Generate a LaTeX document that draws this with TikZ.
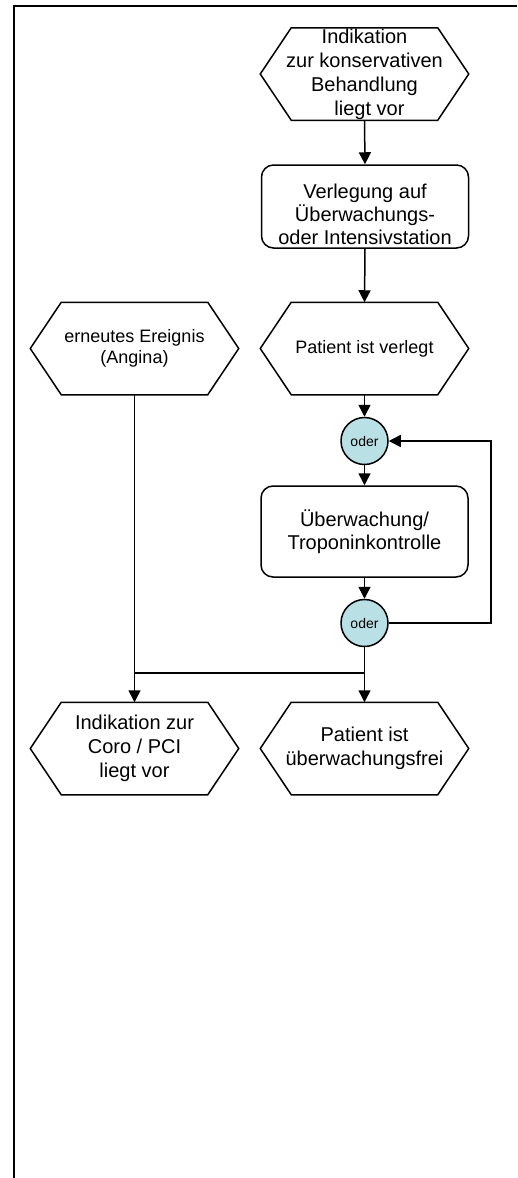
\documentclass[tikz,border=0pt]{standalone}
\usepackage{fontspec}
\setmainfont{Liberation Sans}
\usetikzlibrary{arrows.meta,calc}
\definecolor{orfill}{RGB}{185,224,228}
\begin{document}
\begin{tikzpicture}[x=1pt,y=-1pt,
  line width=1.5pt,
  hex/.style={minimum width=207pt,minimum height=91pt,inner sep=0pt,align=center,
    font=\fontsize{20}{24}\selectfont},
  hexsmall/.style={hex,font=\fontsize{18}{20.5}\selectfont},
  box/.style={draw,rounded corners=12pt,minimum width=207pt,inner sep=0pt,align=center,
    font=\fontsize{20}{23}\selectfont},
  boxtext/.style={inner sep=0pt,align=center,font=\fontsize{20}{23}\selectfont},
  orgate/.style={circle,draw,fill=orfill,minimum size=47pt,inner sep=0pt,
    font=\fontsize{14}{16}\selectfont},
  arr/.style={-{Triangle[length=12pt,width=12pt]}}]

\useasboundingbox (0,0) rectangle (517,1178);

% frame (top and left border)
\draw[line width=2.2pt] (517,6) -- (14,6) -- (14,1178);

% events (hexagons) and functions (rounded boxes)
\node[hex] (ind) at (364.5,74)
  {Indikation\\zur konservativen\\Behandlung\\\hspace*{10pt}liegt vor};
\node[box,minimum height=83pt] (verl) at (365,206.5) {};
\node[boxtext] (verlT) at (365,214) {Verlegung auf\\Überwachungs-\\oder Intensivstation};
\node[hexsmall] (verlegt) at (364.5,348.5) {Patient ist verlegt};
\node[hexsmall] (ereig) at (134.5,348.5) {erneutes Ereignis\\(Angina)};
\node[orgate] (or1) at (364.5,441) {oder};
\node[box,minimum height=91pt] (ueb) at (364.5,531.5) {Überwachung/\\Troponinkontrolle};
\node[orgate] (or2) at (364.5,623) {oder};
\node[hex] (coro) at (134.5,748.5) {Indikation zur\\Coro / PCI\\liegt vor};
\node[hex] (frei) at (364.5,748.5) {Patient ist\\überwachungsfrei};

% hexagon outlines around the event nodes
\foreach \n in {ind,verlegt,ereig,coro,frei}
  \draw ($(\n.north west)+(31,0)$) -- ($(\n.north east)+(-31,0)$) -- (\n.east)
     -- ($(\n.south east)+(-31,0)$) -- ($(\n.south west)+(31,0)$) -- (\n.west) -- cycle;

% connectors
\coordinate (loop) at (491,441);
\coordinate (join) at (364.5,673);
\draw[arr] (ind.south) -- (verl.north);
\draw[arr] (verl.south) -- (verlegt.north);
\draw[arr] (verlegt.south) -- (or1.north);
\draw[arr] (or1.south) -- (ueb.north);
\draw[arr] (ueb.south) -- (or2.north);
\draw[arr] (or2.east) -| (loop) -- (or1.east);
\draw (or2.south) -- (join);
\draw[arr] (join) -- (frei.north);
\draw (join) -- (ereig.south |- join);
\draw[arr] (ereig.south) -- (coro.north);
\end{tikzpicture}
\end{document}
